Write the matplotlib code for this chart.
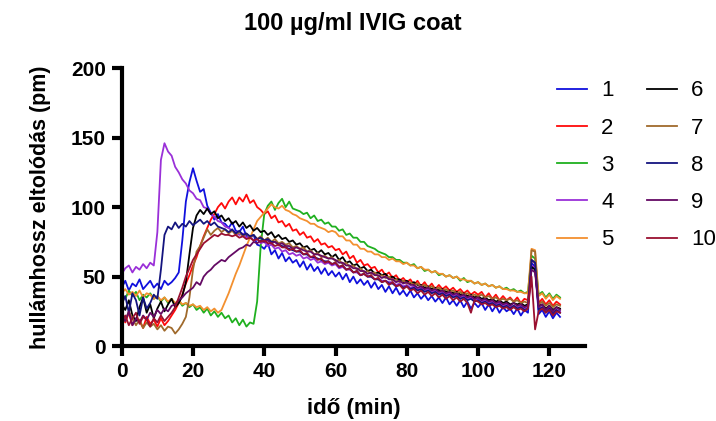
import numpy as np
import matplotlib
matplotlib.use("Agg")
import matplotlib.pyplot as plt

plt.rcParams['font.family'] = ['Liberation Sans', 'DejaVu Sans']

# time axis, one reading per minute
t = np.arange(124)

s1 = [42, 47, 40, 45, 43, 48, 41, 44, 47, 42,
      45, 41, 47, 44, 46, 49, 53, 76, 104, 118,
      128, 119, 111, 113, 101, 96, 91, 95, 89, 88,
      85, 89, 83, 82, 86, 79, 78, 80, 73, 72,
      70, 74, 66, 69, 63, 67, 61, 64, 60, 62,
      57, 61, 55, 59, 54, 57, 52, 56, 51, 54,
      50, 53, 48, 52, 46, 50, 45, 48, 44, 47,
      42, 46, 41, 44, 39, 43, 38, 42, 37, 40,
      36, 40, 35, 38, 34, 37, 33, 36, 32, 35,
      31, 35, 30, 33, 29, 33, 28, 32, 27, 31,
      28, 31, 26, 30, 25, 29, 24, 28, 25, 27,
      23, 27, 22, 26, 24, 60, 57, 23, 26, 21,
      25, 20, 24, 21]
s2 = [22, 17, 24, 15, 20, 18, 13, 21, 16, 19,
      14, 20, 15, 18, 22, 26, 31, 37, 45, 51,
      58, 64, 72, 79, 85, 91, 95, 100, 103, 99,
      104, 107, 102, 107, 104, 109, 103, 105, 100, 98,
      95, 97, 92, 94, 89, 90, 86, 88, 83, 84,
      80, 82, 78, 79, 75, 77, 73, 74, 71, 72,
      69, 70, 66, 68, 63, 65, 60, 62, 58, 59,
      56, 57, 53, 55, 51, 53, 49, 51, 47, 49,
      46, 48, 44, 47, 43, 46, 42, 45, 41, 44,
      41, 43, 40, 42, 39, 41, 38, 40, 37, 39,
      37, 39, 35, 38, 34, 37, 33, 36, 33, 35,
      32, 35, 31, 34, 33, 62, 60, 31, 34, 30,
      33, 29, 32, 30]
s3 = [38, 34, 40, 36, 39, 33, 37, 35, 38, 34,
      36, 32, 35, 31, 34, 30, 33, 29, 31, 28,
      30, 26, 28, 24, 27, 22, 25, 21, 24, 20,
      22, 17, 20, 15, 19, 14, 17, 16, 32, 72,
      95, 101, 104, 98, 103, 106, 100, 104, 99, 98,
      97, 95, 96, 92, 94, 90, 91, 88, 89, 86,
      86, 83, 84, 80, 81, 78, 78, 75, 75, 72,
      71, 70, 68, 67, 66, 64, 64, 62, 62, 60,
      60, 58, 59, 56, 57, 54, 55, 53, 54, 51,
      52, 50, 51, 49, 50, 47, 49, 46, 47, 45,
      46, 44, 45, 43, 44, 42, 43, 41, 42, 40,
      41, 39, 40, 38, 39, 65, 63, 37, 39, 35,
      38, 34, 37, 35]
s4 = [52, 56, 58, 53, 57, 55, 59, 56, 60, 58,
      82, 134, 146, 140, 137, 129, 125, 120, 117, 112,
      110, 106, 105, 100, 99, 95, 93, 90, 89, 86,
      85, 83, 82, 80, 81, 78, 79, 76, 77, 74,
      75, 72, 73, 70, 71, 68, 69, 66, 67, 65,
      66, 63, 64, 62, 63, 60, 61, 59, 60, 58,
      59, 56, 57, 55, 55, 53, 53, 51, 52, 50,
      50, 48, 49, 47, 47, 46, 46, 44, 45, 43,
      44, 42, 43, 41, 42, 40, 41, 39, 40, 38,
      39, 37, 38, 36, 37, 35, 36, 34, 35, 33,
      34, 32, 33, 31, 32, 30, 31, 29, 30, 28,
      29, 28, 29, 27, 28, 58, 56, 27, 28, 25,
      27, 24, 26, 25]
s5 = [38, 41, 37, 39, 36, 40, 35, 38, 37, 34,
      36, 33, 35, 32, 34, 31, 33, 30, 31, 29,
      30, 28, 29, 26, 28, 25, 27, 24, 26, 32,
      38, 45, 52, 58, 65, 72, 78, 84, 90, 93,
      96, 99, 102, 100, 99, 101, 98, 97, 95, 94,
      92, 91, 90, 88, 88, 86, 85, 84, 82, 83,
      82, 79, 79, 76, 76, 73, 73, 70, 70, 68,
      68, 66, 66, 64, 64, 62, 63, 61, 61, 59,
      60, 58, 58, 56, 57, 55, 55, 53, 54, 52,
      52, 50, 51, 49, 50, 48, 48, 47, 47, 45,
      46, 44, 45, 43, 44, 42, 43, 41, 41, 40,
      40, 39, 39, 38, 38, 70, 69, 36, 38, 34,
      37, 33, 36, 34]
s6 = [30, 26, 33, 22, 18, 28, 35, 24, 30, 20,
      27, 32, 25, 30, 34, 28, 31, 36, 46, 66,
      85, 94, 98, 95, 99, 95, 97, 92, 94, 90,
      92, 88, 90, 86, 89, 85, 87, 83, 85, 82,
      83, 80, 82, 78, 80, 77, 78, 75, 76, 73,
      74, 71, 72, 69, 70, 67, 69, 66, 67, 64,
      66, 62, 64, 60, 61, 58, 59, 56, 57, 54,
      55, 52, 53, 51, 52, 49, 50, 48, 48, 46,
      47, 45, 46, 44, 44, 42, 43, 41, 42, 40,
      41, 39, 40, 38, 39, 37, 38, 36, 37, 35,
      36, 34, 35, 33, 34, 32, 33, 31, 32, 30,
      31, 30, 31, 29, 30, 57, 55, 29, 30, 27,
      29, 26, 28, 27]
s7 = [22, 18, 25, 20, 15, 19, 13, 17, 14, 16,
      12, 15, 11, 14, 13, 9, 12, 16, 21, 35,
      55, 68, 72, 78, 84, 80, 83, 85, 82, 84,
      81, 83, 80, 82, 79, 81, 78, 80, 77, 79,
      76, 78, 75, 77, 74, 75, 73, 74, 71, 72,
      70, 71, 68, 69, 66, 67, 64, 65, 63, 64,
      61, 62, 59, 60, 57, 58, 55, 56, 53, 54,
      52, 53, 50, 51, 49, 50, 47, 48, 46, 47,
      45, 46, 44, 45, 43, 44, 42, 43, 41, 42,
      40, 41, 39, 40, 38, 39, 37, 38, 36, 37,
      36, 37, 35, 36, 34, 35, 33, 34, 33, 34,
      32, 33, 31, 32, 31, 69, 68, 30, 32, 29,
      31, 28, 30, 29]
s8 = [30, 36, 24, 38, 33, 22, 35, 27, 31, 37,
      34, 55, 80, 86, 84, 89, 85, 88, 86, 90,
      87, 89, 91, 88, 90, 87, 89, 86, 85, 84,
      82, 84, 81, 83, 80, 81, 79, 80, 77, 78,
      76, 77, 75, 75, 73, 72, 71, 70, 69, 68,
      68, 66, 66, 64, 64, 63, 62, 61, 61, 59,
      60, 57, 58, 55, 56, 53, 54, 51, 52, 50,
      50, 48, 48, 46, 47, 45, 45, 43, 44, 42,
      43, 41, 42, 40, 41, 39, 40, 38, 39, 37,
      38, 36, 37, 35, 36, 34, 35, 33, 34, 32,
      33, 31, 32, 30, 31, 29, 30, 28, 29, 27,
      29, 27, 28, 26, 27, 62, 60, 26, 28, 24,
      27, 23, 26, 24]
s9 = [22, 18, 25, 15, 20, 17, 22, 19, 24, 21,
      26, 23, 27, 25, 29, 30, 33, 35, 38, 40,
      42, 46, 44, 50, 53, 55, 58, 60, 62, 61,
      64, 66, 68, 70, 71, 73, 72, 75, 74, 76,
      75, 76, 74, 75, 73, 74, 72, 72, 70, 71,
      70, 69, 68, 68, 66, 66, 65, 64, 63, 63,
      62, 60, 60, 58, 58, 56, 56, 54, 54, 52,
      53, 51, 51, 49, 50, 48, 48, 46, 47, 45,
      46, 44, 44, 42, 43, 41, 42, 40, 41, 39,
      40, 38, 39, 37, 38, 36, 37, 35, 36, 34,
      35, 33, 34, 32, 33, 31, 32, 30, 31, 29,
      31, 29, 30, 28, 29, 55, 53, 28, 30, 26,
      29, 25, 28, 26]
s10 = [18, 22, 15, 20, 24, 16, 21, 19, 14, 20,
       17, 22, 18, 21, 24, 28, 35, 42, 50, 56,
       62, 66, 70, 74, 76, 78, 80, 79, 81, 80,
       80, 79, 80, 78, 79, 77, 78, 76, 77, 75,
       76, 74, 74, 72, 73, 71, 71, 69, 70, 68,
       69, 66, 67, 64, 65, 62, 63, 60, 61, 59,
       60, 57, 58, 55, 56, 53, 54, 51, 52, 50,
       51, 48, 49, 46, 47, 44, 46, 43, 44, 41,
       43, 40, 41, 38, 40, 37, 39, 36, 38, 35,
       37, 34, 36, 33, 35, 32, 34, 31, 24, 33,
       32, 30, 31, 29, 30, 28, 29, 27, 28, 26,
       28, 26, 27, 25, 27, 50, 12, 25, 27, 24,
       26, 22, 25, 24]

series = [s1, s2, s3, s4, s5, s6, s7, s8, s9, s10]
labels = ["1", "2", "3", "4", "5", "6", "7", "8", "9", "10"]
colors = ["#1010dd", "#ff0a0a", "#1fb01f", "#9a30d8", "#f3902f",
          "#000000", "#a06a2c", "#14147f", "#640a64", "#9a1030"]

fig = plt.figure(figsize=(7.16, 4.21), dpi=100)
ax = fig.add_axes([0.170, 0.178, 0.647, 0.660])

for y, lab, c in zip(series, labels, colors):
    ax.plot(t, y, color=c, linewidth=1.3, label=lab)

ax.set_xlim(0, 130)
ax.set_ylim(0, 200)
ax.set_xticks(np.arange(0, 121, 20))
ax.set_yticks(np.arange(0, 201, 50))

ax.spines['right'].set_visible(False)
ax.spines['top'].set_visible(False)
for sp in ['left', 'bottom']:
    ax.spines[sp].set_linewidth(3.0)
ax.tick_params(width=3.0, length=7.5, labelsize=15, pad=4)
for lbl in ax.get_xticklabels() + ax.get_yticklabels():
    lbl.set_fontweight('bold')

ax.set_xlabel("idő (min)", fontsize=16, fontweight='bold', labelpad=12)
ax.set_ylabel("hullámhossz eltolódás (pm)", fontsize=15.5, fontweight='bold', labelpad=14)
fig.text(0.493, 0.945, "100 µg/ml IVIG coat", fontsize=17, fontweight='bold',
         ha='center', va='center')

fig.legend(loc='upper left', bbox_to_anchor=(0.765, 0.83), ncol=2, frameon=False,
           fontsize=16, handlelength=1.35, labelspacing=0.73, columnspacing=1.5,
           handletextpad=0.65, borderaxespad=0)

fig.savefig("out.png", dpi=100)
